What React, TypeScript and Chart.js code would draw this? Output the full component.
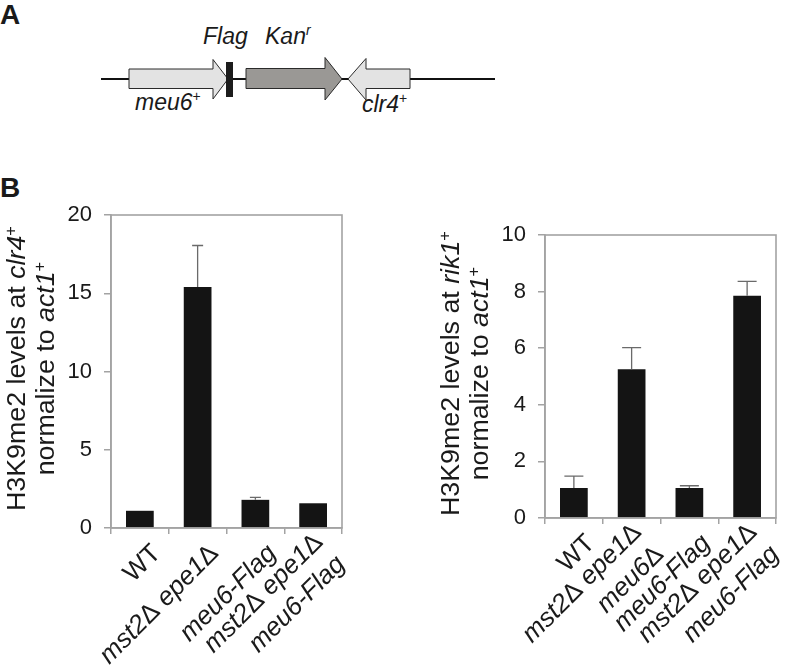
import React, { useEffect, useRef } from 'react';
import { Chart, registerables } from 'chart.js';

Chart.register(...registerables);

const FONT = '"Liberation Sans", Arial, Helvetica, sans-serif';

// ---- data: left panel (clr4+) ----
const leftLabels = [['WT'], ['mst2Δ epe1Δ'], ['meu6-Flag'], ['mst2Δ epe1Δ', 'meu6-Flag']];
const leftValues = [1.1, 15.4, 1.8, 1.58];
const leftErrors = [0, 2.65, 0.16, 0];
const leftYMax = 20;
const leftYStep = 5;
const leftGene = 'clr4';

// ---- data: right panel (rik1+) ----
const rightLabels = [['WT'], ['mst2Δ epe1Δ', 'meu6Δ'], ['meu6-Flag'], ['mst2Δ epe1Δ', 'meu6-Flag']];
const rightValues = [1.06, 5.26, 1.06, 7.85];
const rightErrors = [0.42, 0.76, 0.08, 0.51];
const rightYMax = 10;
const rightYStep = 2;
const rightGene = 'rik1';

type Seg = { t: string; it?: boolean; sup?: boolean };

function segFont(s: Seg, size: number) {
  const sz = s.sup ? size * 0.62 : size;
  return `${s.it ? 'italic ' : ''}${sz}px ${FONT}`;
}

function drawSegs(ctx: CanvasRenderingContext2D, segs: Seg[], size: number, align: 'right' | 'center', stretch = 1) {
  let total = 0;
  const widths = segs.map((s) => {
    ctx.font = segFont(s, size);
    const w = ctx.measureText(s.t).width;
    total += w;
    return w;
  });
  ctx.save();
  ctx.scale(stretch, 1);
  let x = align === 'right' ? -total : -total / 2;
  ctx.textAlign = 'left';
  ctx.textBaseline = 'alphabetic';
  segs.forEach((s, i) => {
    ctx.font = segFont(s, size);
    ctx.fillText(s.t, x, s.sup ? -size * 0.36 : 0);
    x += widths[i];
  });
  ctx.restore();
}

function labelSegs(text: string): Seg[] {
  if (text === 'WT') return [{ t: 'WT' }];
  const parts = text.split('Δ');
  const out: Seg[] = [];
  parts.forEach((p, i) => {
    if (p) out.push({ t: p, it: true });
    if (i < parts.length - 1) out.push({ t: 'Δ' });
  });
  return out;
}

type PanelCfg = {
  labels: string[][];
  values: number[];
  errors: number[];
  yMax: number;
  yStep: number;
  gene: string;
  width: number;
  height: number;
  padLeft: number;
  padTop: number;
  padRight: number;
  xAxisH: number;
  cap: number;
};

function Panel({ cfg, left, top }: { cfg: PanelCfg; left: number; top: number }) {
  const ref = useRef<HTMLCanvasElement | null>(null);
  useEffect(() => {
    if (!ref.current) return;
    const grey = '#a3a3a3';
    const plugin = {
      id: 'decor',
      afterDatasetsDraw(chart: any) {
        const { ctx, chartArea: ca, scales } = chart;
        const xs = scales.x;
        const ys = scales.y;
        ctx.save();
        // error bars
        ctx.strokeStyle = '#6a6a6a';
        ctx.lineWidth = 1.3;
        cfg.values.forEach((v, i) => {
          const e = cfg.errors[i];
          if (!e) return;
          const px = xs.getPixelForValue(i);
          const y0 = ys.getPixelForValue(v);
          const y1 = ys.getPixelForValue(v + e);
          ctx.beginPath();
          ctx.moveTo(px, y0);
          ctx.lineTo(px, y1);
          ctx.moveTo(px - cfg.cap / 2, y1);
          ctx.lineTo(px + cfg.cap / 2, y1);
          ctx.stroke();
        });
        // frame
        ctx.strokeStyle = grey;
        ctx.lineWidth = 1.6;
        ctx.strokeRect(ca.left, ca.top, ca.right - ca.left, ca.bottom - ca.top);
        // category labels, rotated 45deg, block centred on the tick
        ctx.fillStyle = '#1a1a1a';
        const d = Math.SQRT1_2;
        const spacing = 31.5;
        cfg.labels.forEach((lines, i) => {
          const cx = xs.getPixelForValue(i);
          const n = lines.length;
          lines.forEach((ln, j) => {
            const k = j - (n - 1) / 2;
            const px = cx + 22 + k * spacing * d;
            const py = ca.bottom + 26.5 + k * spacing * d;
            ctx.save();
            ctx.translate(px, py);
            ctx.rotate(-Math.PI / 4);
            drawSegs(ctx, labelSegs(ln), 26, 'right');
            ctx.restore();
          });
        });
        // y title (two lines)
        const cy = (ca.top + ca.bottom) / 2 - 3;
        const t1: Seg[] = [{ t: 'H3K9me2 levels at ' }, { t: cfg.gene, it: true }, { t: '+', sup: true }];
        const t2: Seg[] = [{ t: 'normalize to ' }, { t: 'act1', it: true }, { t: '+', sup: true }];
        [[t1, ca.left - 86], [t2, ca.left - 57]].forEach(([segs, bx]: any) => {
          ctx.save();
          ctx.translate(bx, cy);
          ctx.rotate(-Math.PI / 2);
          drawSegs(ctx, segs, 26, 'center', 1.03);
          ctx.restore();
        });
        ctx.restore();
      },
    };

    const chart = new Chart(ref.current, {
      type: 'bar',
      data: {
        labels: cfg.labels.map((l) => l.join(' ')),
        datasets: [
          {
            data: cfg.values,
            backgroundColor: '#141414',
            borderWidth: 0,
            barPercentage: 0.48,
            categoryPercentage: 1,
          },
        ],
      },
      options: {
        responsive: false,
        animation: false,
        devicePixelRatio: 1,
        layout: { padding: { left: cfg.padLeft, top: cfg.padTop, right: cfg.padRight, bottom: 0 } },
        plugins: { legend: { display: false }, tooltip: { enabled: false } },
        scales: {
          x: {
            grid: { offset: true, drawOnChartArea: false, drawTicks: true, tickLength: 6, color: grey, lineWidth: 1.5 },
            border: { display: true, color: grey, width: 1.6 },
            ticks: { display: false },
            afterFit: (s: any) => {
              s.height = cfg.xAxisH;
            },
          },
          y: {
            min: 0,
            max: cfg.yMax,
            grid: { drawOnChartArea: false, drawTicks: true, tickLength: 7, color: grey, lineWidth: 1.5 },
            border: { display: true, color: grey, width: 1.6 },
            ticks: {
              stepSize: cfg.yStep,
              padding: 12,
              color: '#1a1a1a',
              font: { size: 22, family: FONT },
            },
            afterFit: (s: any) => {
              s.width = 60;
            },
          },
        },
      },
      plugins: [plugin],
    } as any);
    return () => chart.destroy();
  }, [cfg]);
  return (
    <canvas
      ref={ref}
      width={cfg.width}
      height={cfg.height}
      style={{ position: 'absolute', left, top, width: cfg.width, height: cfg.height }}
    />
  );
}

const leftCfg: PanelCfg = {
  labels: leftLabels,
  values: leftValues,
  errors: leftErrors,
  yMax: leftYMax,
  yStep: leftYStep,
  gene: leftGene,
  width: 400,
  height: 488,
  padLeft: 51,
  padTop: 35,
  padRight: 58,
  xAxisH: 140,
  cap: 11,
};

const rightCfg: PanelCfg = {
  labels: rightLabels,
  values: rightValues,
  errors: rightErrors,
  yMax: rightYMax,
  yStep: rightYStep,
  gene: rightGene,
  width: 385,
  height: 488,
  padLeft: 85,
  padTop: 55,
  padRight: 9,
  xAxisH: 150,
  cap: 19,
};

function Diagram() {
  const tf = { fontFamily: FONT, fill: '#1a1a1a' } as any;
  return (
    <svg width={785} height={205} style={{ position: 'absolute', left: 0, top: 0 }}>
      <text x={0} y={24} fontSize={28} fontWeight="bold" {...tf}>A</text>
      <text x={0} y={197} fontSize={28} fontWeight="bold" {...tf}>B</text>
      <line x1={101} y1={79} x2={495} y2={79} stroke="#111" strokeWidth={2.2} />
      <polygon points="129,69 213,69 213,59.5 228,79 213,99 213,88.5 129,88.5" fill="#e3e3e3" stroke="#2a2a2a" strokeWidth={1} />
      <rect x={226} y={62} width={7} height={35} fill="#1c1c1c" />
      <polygon points="246,68.5 325,68.5 325,57.5 342,79 325,100 325,88.5 246,88.5" fill="#9a9895" stroke="#2a2a2a" strokeWidth={1} />
      <polygon points="348,79 366,58.5 366,69 410,69 410,88.5 366,88.5 366,100" fill="#e3e3e3" stroke="#2a2a2a" strokeWidth={1} />
      <text x={203} y={44} fontSize={23} fontStyle="italic" {...tf}>Flag</text>
      <text x={265} y={44} fontSize={23} fontStyle="italic" {...tf}>
        Kan<tspan fontSize={14} dy={-9}>r</tspan>
      </text>
      <text x={135} y={110} fontSize={23} fontStyle="italic" {...tf}>
        meu6<tspan fontSize={14} dy={-9} fontStyle="normal">+</tspan>
      </text>
      <text x={362} y={112} fontSize={23} fontStyle="italic" {...tf}>
        clr4<tspan fontSize={14} dy={-9} fontStyle="normal">+</tspan>
      </text>
    </svg>
  );
}

export default function App() {
  return (
    <div style={{ position: 'absolute', left: 0, top: 0, width: 785, height: 668, background: '#fff', overflow: 'hidden' }}>
      <Diagram />
      <Panel cfg={leftCfg} left={0} top={180} />
      <Panel cfg={rightCfg} left={400} top={180} />
    </div>
  );
}
